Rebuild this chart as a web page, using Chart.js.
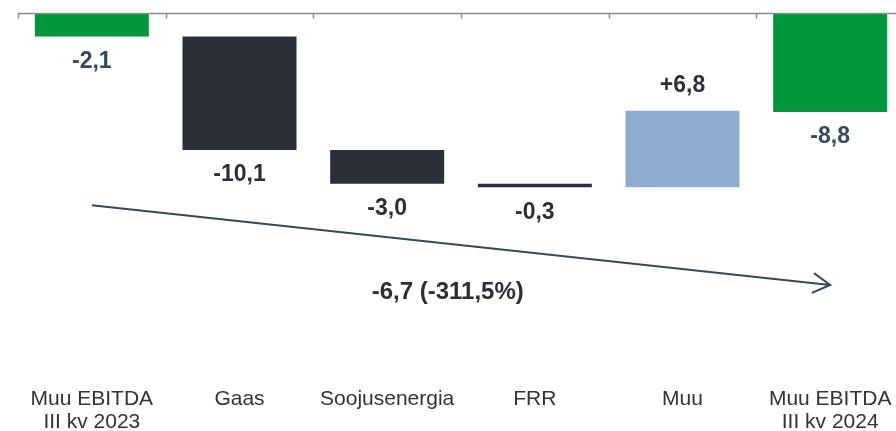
<!DOCTYPE html>
<html lang="et">
<head>
    <meta charset="UTF-8">
    <title>Muu EBITDA</title>
    <script src="https://cdn.jsdelivr.net/npm/chart.js@4.4.1/dist/chart.umd.min.js"></script>
    <style>
        body {
            margin: 0;
            overflow: hidden;
            background: #fff;
        }
        .chart-container {
            width: 904px;
            height: 431px;
        }
    </style>
</head>
<body>
    <div class="chart-container">
        <canvas id="chart"></canvas>
    </div>

    <script>
        const categories = [['Muu EBITDA', 'III kv 2023'], 'Gaas', 'Soojusenergia', 'FRR', 'Muu', ['Muu EBITDA', 'III kv 2024']];
        const startTotal = -2.1;
        const deltas = [-10.1, -3.0, -0.3, 6.8];
        const endTotal = -8.8;
        const summaryText = '-6,7 (-311,5%)';
        // arrow from first to last category (value units on the y scale)
        const arrowFrom = -17.1;
        const arrowTo = -24.2;
        const summaryPos = { x: 2.41, y: -24.9 };

        const green = '#00963a';
        const dark = '#2b2f38';
        const lightBlue = '#8eabd0';
        const slate = '#34495e';

        // build floating bars
        const ranges = [[0, startTotal]];
        const labels = [startTotal];
        let run = startTotal;
        deltas.forEach(d => {
            ranges.push([run, run + d]);
            labels.push(d);
            run += d;
        });
        ranges.push([0, endTotal]);
        labels.push(endTotal);

        const colors = [green, ...deltas.map(d => d < 0 ? dark : lightBlue), green];
        const labelColors = [slate, ...deltas.map(() => dark), slate];

        function fmt(v, sign) {
            const s = Math.abs(v).toFixed(1).replace('.', ',');
            if (v < 0) return '-' + s;
            return sign ? '+' + s : s;
        }

        const font = '"Liberation Sans", Arial, sans-serif';

        const zeroAxis = {
            id: 'zeroAxis',
            afterDatasetsDraw(chart) {
                const { ctx, scales: { x, y }, chartArea } = chart;
                const y0 = Math.round(y.getPixelForValue(0)) + 0.5;
                ctx.save();
                ctx.strokeStyle = '#8c8c8c';
                ctx.lineWidth = 1.5;
                ctx.beginPath();
                ctx.moveTo(chartArea.left, y0);
                ctx.lineTo(chart.width, y0);
                for (let i = 0; i <= categories.length; i++) {
                    const px = Math.round(x.getPixelForValue(i - 0.5)) + 0.5;
                    ctx.moveTo(px, y0);
                    ctx.lineTo(px, y0 + 5);
                }
                ctx.stroke();
                ctx.restore();
            }
        };

        const barLabels = {
            id: 'barLabels',
            afterDatasetsDraw(chart) {
                const { ctx } = chart;
                const meta = chart.getDatasetMeta(0);
                ctx.save();
                ctx.font = 'bold 23px ' + font;
                ctx.textAlign = 'center';
                ctx.textBaseline = 'middle';
                meta.data.forEach((bar, i) => {
                    const v = labels[i];
                    const isDelta = i > 0 && i < categories.length - 1;
                    const top = Math.min(bar.y, bar.base);
                    const bottom = Math.max(bar.y, bar.base);
                    ctx.fillStyle = labelColors[i];
                    if (v > 0) {
                        ctx.fillText(fmt(v, isDelta), bar.x, top - 25);
                    } else {
                        ctx.fillText(fmt(v, isDelta), bar.x, bottom + 25);
                    }
                });
                ctx.restore();
            }
        };

        const trendArrow = {
            id: 'trendArrow',
            afterDatasetsDraw(chart) {
                const { ctx, scales: { x, y } } = chart;
                const x1 = x.getPixelForValue(0), y1 = y.getPixelForValue(arrowFrom);
                const x2 = x.getPixelForValue(categories.length - 1), y2 = y.getPixelForValue(arrowTo);
                const ang = Math.atan2(y2 - y1, x2 - x1);
                ctx.save();
                ctx.strokeStyle = slate;
                ctx.lineWidth = 2;
                ctx.beginPath();
                ctx.moveTo(x1, y1);
                ctx.lineTo(x2, y2);
                const len = 20, spread = 0.52;
                ctx.moveTo(x2 - len * Math.cos(ang - spread), y2 - len * Math.sin(ang - spread));
                ctx.lineTo(x2, y2);
                ctx.lineTo(x2 - len * Math.cos(ang + spread), y2 - len * Math.sin(ang + spread));
                ctx.stroke();

                ctx.fillStyle = dark;
                ctx.font = 'bold 24px ' + font;
                ctx.textAlign = 'center';
                ctx.textBaseline = 'middle';
                ctx.fillText(summaryText, x.getPixelForValue(summaryPos.x), y.getPixelForValue(summaryPos.y));
                ctx.restore();
            }
        };

        new Chart(document.getElementById('chart'), {
            type: 'bar',
            data: {
                labels: categories,
                datasets: [{
                    data: ranges,
                    backgroundColor: colors,
                    borderWidth: 0,
                    barPercentage: 0.772,
                    categoryPercentage: 1
                }]
            },
            options: {
                responsive: true,
                maintainAspectRatio: false,
                animation: false,
                layout: {
                    padding: { left: 18, right: 0, top: 13, bottom: -7 }
                },
                scales: {
                    x: {
                        grid: { display: false, drawTicks: false, tickLength: 0 },
                        border: { display: false },
                        ticks: {
                            color: '#333',
                            font: { family: font, size: 21, lineHeight: 1.1 },
                            padding: 4,
                            maxRotation: 0,
                            autoSkip: false
                        }
                    },
                    y: {
                        display: false,
                        min: -33.0,
                        max: 0
                    }
                },
                plugins: {
                    legend: { display: false },
                    tooltip: { enabled: false }
                }
            },
            plugins: [zeroAxis, barLabels, trendArrow]
        });
    </script>
</body>
</html>
